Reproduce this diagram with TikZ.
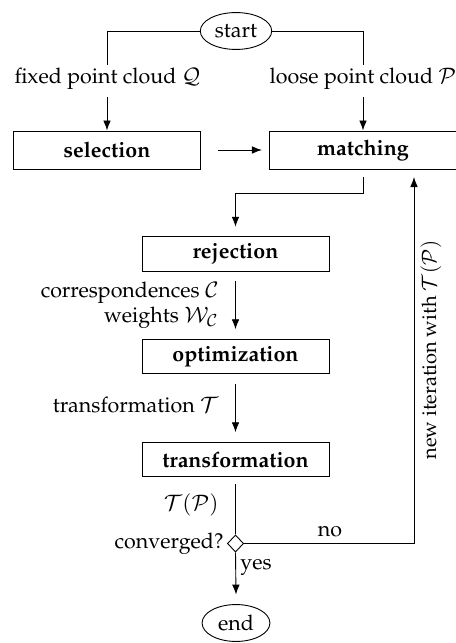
\documentclass[tikz,border=0pt]{standalone}
\usepackage[T1]{fontenc}
\usepackage{mathpazo}
\usetikzlibrary{arrows.meta,shapes.geometric}
\begin{document}
\begin{tikzpicture}[x=0.42pt,y=-0.42pt,
  txt/.style={font=\fontsize{9}{11}\selectfont, inner sep=0pt},
  box/.style={draw, font=\fontsize{9}{11}\selectfont\bfseries, inner sep=0pt,
    minimum width=78.5pt, minimum height=14.5pt},
  term/.style={draw, ellipse, font=\fontsize{9}{11}\selectfont, inner sep=0pt,
    minimum width=30pt, minimum height=15.5pt},
  decision/.style={draw, diamond, inner sep=0pt, minimum width=6.8pt, minimum height=7.2pt},
  flow/.style={-{Latex[length=4.2pt,width=3.2pt]}},
  line width=0.38pt]
\useasboundingbox (0,0) rectangle (455,643);

% terminals
\node[term] (start) at (236,31) {start};
\node[term, minimum width=28.5pt] (end) at (236,623) {end};

% process boxes
\node[box, minimum height=16pt] (sel) at (107,150) {selection};
\node[box, minimum height=16pt] (match) at (363,150) {matching};
\node[box] (rej) at (235.5,254) {rejection};
\node[box] (opt) at (235.5,356.5) {optimization};
\node[box] (trf) at (235.5,459.5) {transformation};
\node[decision] (conv) at (235.5,543.5) {};

% labels
\node[txt] (qlab) at (107.5,79) {fixed point cloud $\mathcal{Q}$};
\node[txt] (plab) at (363,79) {loose point cloud $\mathcal{P}$};
\node[txt, anchor=east, align=right, font=\fontsize{9}{10.5}\selectfont] (cwlab) at (219,305)
  {correspondences $\mathcal{C}$\\weights $\mathcal{W}_{\mathcal{C}}$};
\node[txt, anchor=east] (tlab) at (219,405) {transformation $\mathcal{T}$};
\node[txt, anchor=east] (tplab) at (219,505) {$\mathcal{T}(\mathcal{P})$};
\node[txt, anchor=east] (convlab) at (224,543.5) {converged?};
\node[txt] (nolab) at (330,532) {no};
\node[txt, anchor=west] (yeslab) at (240,567) {yes};
\node[txt, rotate=90, font=\fontsize{8.4}{10}\selectfont] (iterlab) at (431,350)
  {new iteration with $\mathcal{T}(\mathcal{P})$};

% coordinates for connector breaks
\coordinate (qtop) at (107,65);
\coordinate (qbot) at (107,97);
\coordinate (ptop) at (363,65);
\coordinate (pbot) at (363,97);
\coordinate (mout) at (363,177);
\coordinate (bend) at (363,193);
\coordinate (loop) at (414,543.5);
\coordinate (mback) at (414,177);

% connectors
\draw (start.west) -| (qtop);
\draw[flow] (qbot) -- (sel.north);
\draw (start.east) -| (ptop);
\draw[flow] (pbot) -- (match.north);
\draw[flow] ([xshift=7pt]sel.east) -- ([xshift=-3pt]match.west);
\draw[flow] (mout) -- (bend) -| ([yshift=4pt]rej.north);
\draw[flow] ([yshift=-4pt]rej.south) -- ([yshift=4pt]opt.north);
\draw[flow] ([yshift=-4pt]opt.south) -- ([yshift=4pt]trf.north);
\draw ([yshift=-3pt]trf.south) -- (conv.north);
\draw[flow] (conv.south) -- ([yshift=4pt]end.north);
\draw[flow] (conv.east) -- (loop) -- (mback);
\end{tikzpicture}
\end{document}
